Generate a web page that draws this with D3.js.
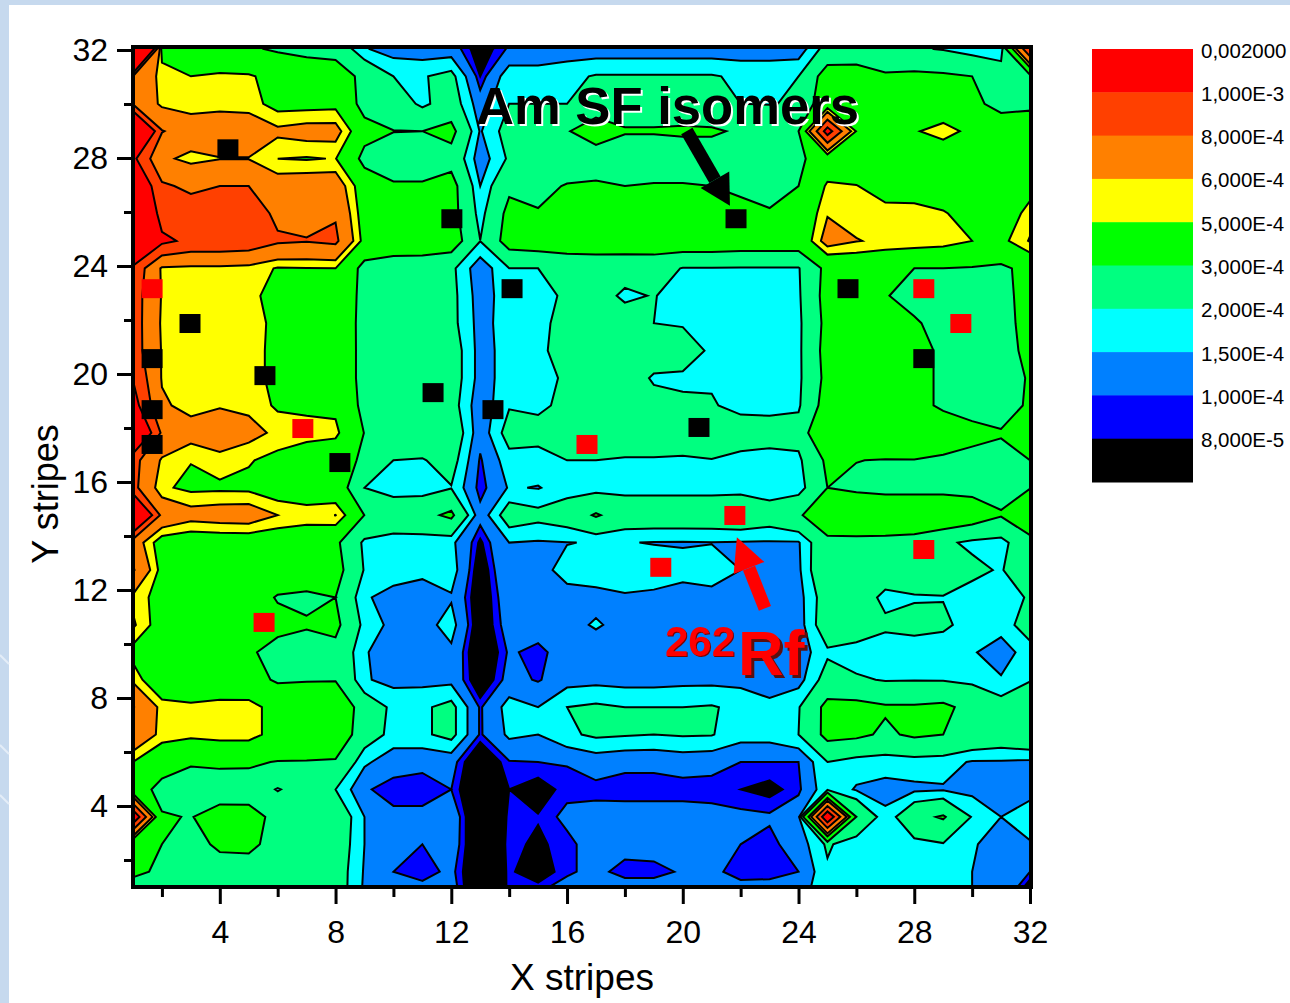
<!DOCTYPE html>
<html>
<head>
<meta charset="utf-8">
<script src="https://cdn.jsdelivr.net/npm/d3@7"></script>
<style>
html, body { margin: 0; padding: 0; background: #fff; overflow: hidden; }
text { font-family: "Liberation Sans", Arial, sans-serif; fill: #000; }
</style>
</head>
<body>
<div id="chart"></div>
<script>
// rate values, units of 1e-4, one row per Y stripe from the top, 32 X stripes each
var zRows = [
[25,4.5,3.8,3.6,3.2,2.8,2.6,2.6,1.55,1.25,1.2,1.2,.6,1.05,1.05,1.2,1.2,1.2,1.2,1.2,1.2,1.2,1.2,1.2,2.3,2.6,2.4,2.1,1.95,1.7,1.6,10],
[8,5.5,5.0,5.2,5.15,4.5,3.9,3.6,2.7,2.0,1.95,2.2,.8,1.8,1.8,1.85,2.05,2.05,2.05,2.05,2.05,1.9,1.9,2.0,3.5,3.3,3.1,3.2,3.15,3.0,2.5,2.6],
[7.8,5.7,5.4,5.6,5.5,4.5,4.5,4.6,2.4,2.5,1.85,2.4,1.2,2.0,2.0,2.0,2.6,2.7,2.7,2.6,2.4,2.0,1.98,2.05,3.9,3.6,3.5,3.5,4.07,3.15,2.8,2.9],
[16,8.1,7,7,7,6.3,6.6,6.6,3.6,3.02,3.0,3.3,1.45,2.3,2.6,2.95,3.4,3.05,3.05,3.1,3.1,2.9,2.6,3.0,11,4.9,4.3,4.9,5.4,4.7,3.4,3.3],
[10.5,6.3,5.63,5.95,5.95,5.0,4.9,5.05,2.5,2.5,2.5,2.63,1.2,2.1,2.3,2.5,2.6,2.6,2.6,2.6,2.6,2.6,2.6,2.7,3.9,3.8,3.7,3.9,4.1,3.9,3.6,3.5],
[13,8.3,7.6,8,8,6.8,7,7,4.0,3.1,3.1,3.4,1.5,2.8,2.8,3.05,3.1,3.0,3.05,3.05,3.0,2.8,2.6,3.0,5.2,5.05,4.4,4.5,4.2,4.1,4.2,4.4],
[15,9,9,9.3,9.3,7.5,7.3,7.8,4.2,3.6,3.6,3.4,1.75,3.3,3.05,3.5,3.6,3.6,3.6,3.6,3.5,3.3,3.1,3.4,5.9,5.6,5.4,5.3,5.1,4.5,3.9,5.5],
[15,10.5,9.5,9.5,9.3,8.3,8.1,8.4,4.5,3.9,3.8,3.6,2.01,3.45,3.6,3.8,3.8,3.7,3.7,3.7,3.7,3.6,3.6,3.6,6.7,6.05,5.8,5.7,5.5,5.0,4.6,6.1],
[9.5,5.8,5.7,5.7,5.6,4.9,4.95,5.0,2.4,2.26,2.3,2.15,1.15,2.0,2.0,2.1,2.2,2.25,2.3,1.97,1.97,1.95,1.95,1.95,3.3,3.6,3.3,3.0,3.0,2.9,2.7,3.5],
[9,5.9,5.6,5.6,5.4,4.4,4.0,3.8,2.7,2.5,2.4,2.2,1.25,1.77,1.9,2.05,2.25,1.9,2.03,1.75,1.7,1.7,1.7,1.9,3.4,3.8,3.05,2.7,2.6,2.6,2.6,3.5],
[9,5.8,5.6,5.6,5.5,4.67,3.9,3.7,2.7,2.5,2.3,2.2,1.3,1.75,1.85,2.2,2.5,2.3,2.0,1.95,1.75,1.7,1.7,1.85,3.3,3.9,3.5,3.1,2.7,2.5,2.6,3.4],
[9,5.9,5.6,5.6,5.5,4.6,3.7,3.6,2.75,2.6,2.6,2.4,1.3,1.7,1.8,2.4,2.6,2.5,2.5,2.3,1.9,1.7,1.7,1.85,3.4,3.7,3.6,3.3,2.85,2.7,2.7,3.2],
[9.9,5.9,5.6,5.7,5.5,4.6,3.9,3.6,2.75,2.6,2.6,2.4,1.3,1.7,1.8,2.09,2.6,2.5,1.9,1.9,1.96,1.7,1.7,1.85,3.3,3.9,3.7,3.4,2.8,2.6,2.5,3.1],
[11,6.2,5.6,5.9,5.7,4.8,4.7,4.7,2.5,2.6,2.6,2.3,1.15,1.95,1.92,2.1,2.55,2.4,2.3,2.1,2.03,1.9,1.85,1.9,3.5,3.9,3.7,3.2,2.9,2.6,2.4,3.2],
[14,7.7,6.6,6.9,6.5,5.7,5.5,5.3,2.95,2.7,2.6,2.6,1.15,2.3,2.15,2.3,2.35,2.4,2.4,2.5,2.4,2.2,2.25,2.3,4.4,4.4,4.3,3.9,3.4,3.3,3.1,3.6],
[8.7,5.8,5.05,5.6,5.1,4.6,4.0,3.8,2.7,2.0,1.95,2.3,.95,1.78,1.85,2.0,2.0,1.95,1.95,1.9,1.98,1.9,1.8,1.85,3.2,3.02,2.95,2.97,2.9,2.7,2.6,3.0],
[8.6,5.2,4.7,4.75,4.7,4.1,4.0,3.7,2.0,1.7,1.7,1.97,.85,1.55,1.47,1.75,1.75,1.8,1.8,1.8,1.8,1.8,1.65,1.7,3.0,2.8,2.7,2.7,2.7,2.7,2.7,2.97],
[14.9,7.5,6.6,6.8,6.9,6.0,5.6,6.02,2.98,2.6,2.7,3.2,1.15,2.4,2.2,2.4,3.1,2.5,2.5,2.5,2.5,2.6,2.4,2.85,3.9,4.0,3.9,3.9,3.9,3.6,3.07,3.8],
[7,4.2,3.9,4,4,3.9,3.9,3.2,1.85,1.7,1.7,1.62,.74,1.5,1.45,1.49,1.52,1.52,1.48,1.47,1.49,1.47,1.45,1.45,2.7,2.7,2.7,2.6,2.15,1.85,1.75,2.7],
[8.2,4.5,3.9,3.9,3.9,3.9,3.7,3.4,1.95,1.7,1.6,1.75,.55,1.45,1.4,1.6,1.75,1.75,1.75,1.62,1.65,1.5,1.35,1.4,2.8,2.7,2.5,2.4,2.3,2.2,1.92,2.9],
[5.7,4.4,3.8,3.8,3.7,2.9,2.8,3.0,1.55,1.35,1.3,1.45,.5,1.3,1.3,1.4,1.35,1.45,1.4,1.35,1.4,1.4,1.3,1.3,2.4,2.5,1.8,1.95,1.98,1.7,1.8,2.05],
[6.2,4.2,3.7,3.7,3.7,3.4,3.1,3.25,1.8,1.35,1.3,1.7,.5,1.2,1.2,1.35,1.55,1.35,1.3,1.3,1.3,1.3,1.25,1.25,2.5,2.6,2.15,2.2,2.1,1.8,1.7,2.35],
[4.5,3.6,3.6,3.5,3.2,2.5,2.5,2.7,1.55,1.2,1.2,1.4,.4,1.05,.9,1.2,1.25,1.25,1.25,1.25,1.25,1.25,1.25,1.2,1.9,1.65,1.6,1.7,1.7,1.55,1.25,1.75],
[5.75,3.45,3.4,3.4,3.6,2.8,2.9,2.95,1.55,1.35,1.35,1.35,.5,1.15,.96,1.3,1.35,1.3,1.3,1.35,1.35,1.35,1.3,1.3,2.3,2.1,1.95,1.97,1.95,1.85,1.55,1.95],
[8.1,5.6,5.3,5.6,5.5,4.4,4.2,3.9,2.5,1.85,1.9,2.2,.95,1.7,1.5,2.0,2.1,2.0,2.0,2.0,2.05,1.85,1.6,1.95,3.3,3.3,3.1,3.1,3.2,2.7,2.3,2.7],
[7.5,5.6,5.3,5.5,5.5,4.4,3.8,3.8,2.4,1.8,1.9,2.2,.95,1.6,1.5,1.9,2.1,2.05,2.0,2.05,2.03,1.7,1.7,2.0,3.3,3.2,2.85,3.15,3.0,2.7,2.5,2.75],
[5,3.6,3.1,3.2,3.15,2.95,2.95,2.9,1.6,1.2,1.1,1.15,.4,.97,1.0,1.02,1.2,1.1,1.1,1.2,1.15,1.0,1.0,1.0,2.0,1.75,1.7,1.75,1.7,1.45,1.45,1.4],
[3.7,2.6,2.5,2.4,2.5,1.95,2.4,2.0,1.05,.85,.85,1.0,.3,.8,.65,.9,.9,.85,.85,.85,.85,.8,.7,.92,1.85,1.45,1.35,1.4,1.45,1.35,1.4,1.3],
[12,3.1,2.95,3.5,3.4,2.7,2.5,2.6,1.5,1.1,1.1,1.3,.3,.85,.82,1.1,1.15,1.2,1.2,1.2,1.15,1.08,1.05,1.3,12,3.0,1.6,2.7,3.1,1.95,1.5,1.8],
[3.4,3.0,2.6,3.2,3.25,2.6,2.5,2.5,1.5,1.15,1.0,1.25,.35,.87,.75,.9,1.2,1.15,1.2,1.2,1.2,1.0,.9,1.2,2.1,1.6,1.5,1.8,1.95,1.55,1.3,1.45],
[3.5,2.6,2.5,2.5,2.5,2.6,2.6,2.4,1.45,1.0,.85,1.1,.35,.85,.6,.95,1.1,.88,.88,1.05,1.1,.85,.85,1.0,1.9,1.9,1.9,1.9,1.7,1.5,1.25,1.0],
[1,3,2.6,3.3,3.3,2.6,2.4,2.4,1.4,1.2,1.3,1.25,.3,.85,1.1,1.25,1.25,1.4,1.4,1.4,1.3,1.35,1.4,1.3,1.9,1.9,1.9,1.9,1.7,1.5,1.2,.3]
];

// contour levels, same units, with the band colour that starts at each level
var levels = [0.8, 1, 1.5, 2, 3, 5, 6, 8, 10];
var bandColors = ["#0000ff", "#0080ff", "#00ffff", "#00ff80", "#00ff00", "#ffff00", "#ff8000", "#ff4000", "#ff0000"];
var lowColor = "#000000";

// legend, top to bottom
var legendLabels = ["0,002000", "1,000E-3", "8,000E-4", "6,000E-4", "5,000E-4", "3,000E-4", "2,000E-4", "1,500E-4", "1,000E-4", "8,000E-5"];

var majorTicks = [4, 8, 12, 16, 20, 24, 28, 32];
var minorTicks = [2, 6, 10, 14, 18, 22, 26, 30];

// isomer positions in stripes
var blackX = [4.28, 2.97, 1.66, 5.56, 1.66, 1.66, 8.15, 12.02, 14.10, 11.37, 13.44, 20.56, 21.84, 25.71, 28.33];
var blackY = [28.34, 21.87, 20.57, 19.94, 18.68, 17.39, 16.72, 25.75, 23.16, 19.31, 18.68, 18.02, 25.75, 23.16, 20.57];
var redX = [1.66, 6.87, 5.53, 16.69, 19.24, 21.80, 28.33, 29.61, 28.33];
var redY = [23.16, 17.98, 10.80, 17.39, 12.84, 14.76, 23.16, 21.87, 13.5];

var width = 1290, height = 1003;
var plot = { left: 133, right: 1031, top: 48, bottom: 887 };

var svg = d3.select("#chart").append("svg")
    .attr("width", width)
    .attr("height", height)
    .style("display", "block");

// slide background, only the strips at the left and the top show
svg.append("rect").attr("width", width).attr("height", height).attr("fill", "#fff");
svg.append("rect").attr("width", 9).attr("height", height).attr("fill", "#c6d9ee");
svg.append("rect").attr("width", width).attr("height", 5).attr("fill", "#c6d9ee");
[655, 745, 795].forEach(function (y0) {
    svg.append("line")
        .attr("x1", 0).attr("y1", y0).attr("x2", 9).attr("y2", y0 + 9)
        .attr("stroke", "#e4edf7").attr("stroke-width", 2);
});

var x = d3.scaleLinear().domain([1, 32]).range([133, 1030]);
var y = d3.scaleLinear().domain([1, 32]).range([887, 50]);

// the rows sit a bit wider than the axis units, last one falls under the bottom axis
var rowToY = d3.scaleLinear().domain([0, 31]).range([32.04, 0.55]);

var clip = svg.append("clipPath").attr("id", "plot-clip").append("rect")
    .attr("x", plot.left).attr("y", plot.top)
    .attr("width", plot.right - plot.left).attr("height", plot.bottom - plot.top);

var values = d3.merge(zRows);
var contours = d3.contours().size([32, 32]).thresholds(levels)(values);

var toPath = d3.geoPath(d3.geoTransform({
    point: function (cx, cy) {
        this.stream.point(x(cx + 0.5), y(rowToY(cy - 0.5)));
    }
}));

var plotGroup = svg.append("g").attr("clip-path", "url(#plot-clip)");

plotGroup.append("rect")
    .attr("x", plot.left).attr("y", plot.top)
    .attr("width", plot.right - plot.left).attr("height", plot.bottom - plot.top)
    .attr("fill", lowColor);

plotGroup.selectAll(".band").data(contours)
    .enter().append("path")
    .attr("class", "band")
    .attr("d", toPath)
    .attr("fill", function (d, i) { return bandColors[i]; })
    .attr("stroke", "#000")
    .attr("stroke-width", 2)
    .attr("stroke-linejoin", "miter");

// axes
function drawAxis(axis, transform, strokeWidth) {
    var g = svg.append("g").attr("transform", transform).call(axis);
    g.select(".domain").remove();
    g.selectAll("line").attr("stroke", "#000").attr("stroke-width", strokeWidth);
    g.selectAll("text").style("font-size", "32px");
    return g;
}

drawAxis(d3.axisBottom(x).tickValues(majorTicks).tickFormat(d3.format("d")).tickSize(17).tickPadding(16), "translate(0,887)", 3);
drawAxis(d3.axisBottom(x).tickValues(minorTicks).tickFormat("").tickSize(10), "translate(0,887)", 3);
drawAxis(d3.axisLeft(y).tickValues(majorTicks).tickFormat(d3.format("d")).tickSize(16).tickPadding(9), "translate(133,0)", 3);
drawAxis(d3.axisLeft(y).tickValues(minorTicks).tickFormat("").tickSize(9), "translate(133,0)", 3);

svg.append("rect")
    .attr("x", plot.left).attr("y", plot.top - 1)
    .attr("width", plot.right - plot.left).attr("height", plot.bottom - plot.top + 1)
    .attr("fill", "none")
    .attr("stroke", "#000")
    .attr("stroke-width", 4);

svg.append("text")
    .attr("x", 582).attr("y", 990)
    .attr("text-anchor", "middle")
    .style("font-size", "37px")
    .text("X stripes");

svg.append("text")
    .attr("transform", "translate(58,494) rotate(-90)")
    .attr("text-anchor", "middle")
    .style("font-size", "36px")
    .text("Y stripes");

// isomer squares
function drawSquares(xs, ys, color) {
    svg.selectAll(null).data(xs)
        .enter().append("rect")
        .attr("x", function (d) { return x(d) - 10.5; })
        .attr("y", function (d, i) { return y(ys[i]) - 9.5; })
        .attr("width", 21)
        .attr("height", 19)
        .attr("fill", color);
}
drawSquares(blackX, blackY, "#000");
drawSquares(redX, redY, "#ff0000");

// annotation arrows, ends given in stripes
function drawArrow(x0, y0, x1, y1, color, shaft, headLen, headWidth) {
    var ax = x(x0), ay = y(y0), bx = x(x1), by = y(y1);
    var len = Math.sqrt((bx - ax) * (bx - ax) + (by - ay) * (by - ay));
    var ux = (bx - ax) / len, uy = (by - ay) / len;
    var cx = bx - ux * headLen, cy = by - uy * headLen;
    svg.append("line")
        .attr("x1", ax).attr("y1", ay).attr("x2", cx).attr("y2", cy)
        .attr("stroke", color).attr("stroke-width", shaft);
    svg.append("path")
        .attr("d", d3.line()([
            [bx, by],
            [cx - uy * headWidth / 2, cy + ux * headWidth / 2],
            [cx + uy * headWidth / 2, cy - ux * headWidth / 2]
        ]) + "Z")
        .attr("fill", color);
}
drawArrow(20.14, 29.0, 21.63, 26.23, "#000", 13, 30, 33);
drawArrow(22.84, 11.32, 21.87, 13.95, "#ff0000", 13, 33, 33);

// labels, the shadow is a filter so each text is there once
function label(txt, px, py, size, color, shadow, off) {
    svg.append("text").attr("x", px).attr("y", py)
        .style("font-size", size + "px").style("font-weight", "bold")
        .style("fill", color)
        .style("filter", "drop-shadow(" + off + "px " + off + "px 0 " + shadow + ")")
        .text(txt);
}
label("Am SF isomers", 476, 124, 52.6, "#000", "#fff", 2);
label("262", 665, 656, 42, "#ff0000", "#7a0000", 1);
label("Rf", 738, 675, 63, "#ff0000", "#5a1010", 3);

// legend
var legendY = d3.scaleBand().domain(d3.range(10)).range([49, 482]);
var legendColors = bandColors.slice().reverse().concat([lowColor]);

svg.selectAll(".legend-cell").data(legendColors)
    .enter().append("rect")
    .attr("class", "legend-cell")
    .attr("x", 1092)
    .attr("y", function (d, i) { return legendY(i); })
    .attr("width", 101)
    .attr("height", legendY.bandwidth() + 0.5)
    .attr("fill", function (d) { return d; });

svg.selectAll(".legend-label").data(legendLabels)
    .enter().append("text")
    .attr("class", "legend-label")
    .attr("x", 1201)
    .attr("y", function (d, i) { return legendY(i) + 8.5; })
    .style("font-size", "20.5px")
    .text(function (d) { return d; });
</script>
</body>
</html>
